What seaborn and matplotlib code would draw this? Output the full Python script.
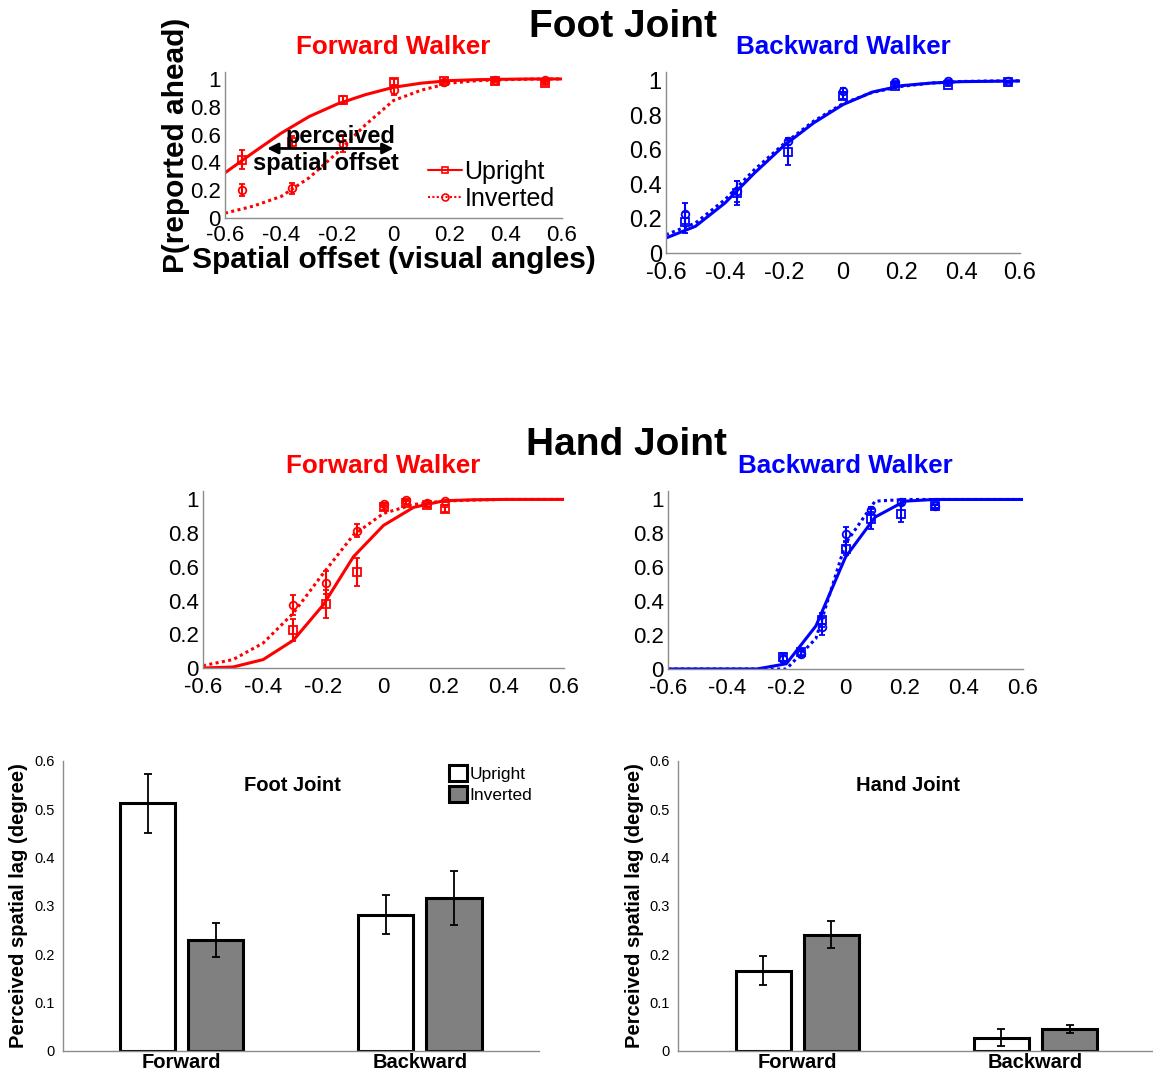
import numpy as np
import pandas as pd
import matplotlib
matplotlib.use("Agg")
import matplotlib.pyplot as plt
from matplotlib.lines import Line2D
from matplotlib.patches import Patch
import seaborn as sns

sns.set_style("white")
plt.rcParams["font.family"] = ["Liberation Sans", "DejaVu Sans"]
plt.rcParams["text.color"] = "black"
plt.rcParams["axes.labelcolor"] = "black"
plt.rcParams["xtick.color"] = "black"
plt.rcParams["ytick.color"] = "black"

# ---------------- psychometric data ----------------
fit_x = [-0.6, -0.5, -0.4, -0.3, -0.2, -0.1, 0.0, 0.1, 0.2, 0.3, 0.4, 0.5, 0.6]

# Foot joint, forward walker
foot_fw_x = [-0.54, -0.36, -0.18, 0.0, 0.18, 0.36, 0.54]
foot_fw_up = [0.42, 0.55, 0.85, 0.975, 0.985, 0.985, 0.97]
foot_fw_up_err = [0.07, 0.04, 0.027, 0.025, 0.01, 0.01, 0.01]
foot_fw_inv = [0.20, 0.215, 0.535, 0.92, 0.98, 0.995, 0.995]
foot_fw_inv_err = [0.042, 0.04, 0.06, 0.038, 0.01, 0.008, 0.008]
foot_fw_up_fit = [0.325, 0.47, 0.61, 0.73, 0.82, 0.887, 0.94, 0.97, 0.988, 0.995, 0.998, 1.0, 1.0]
foot_fw_inv_fit = [0.035, 0.085, 0.155, 0.29, 0.47, 0.67, 0.845, 0.92, 0.97, 0.988, 0.995, 0.999, 1.0]

# Foot joint, backward walker
foot_bw_x = [-0.535, -0.36, -0.185, 0.0, 0.175, 0.355, 0.56]
foot_bw_up = [0.178, 0.348, 0.584, 0.913, 0.971, 0.977, 0.99]
foot_bw_up_err = [0.06, 0.068, 0.072, 0.02, 0.008, 0.008, 0.006]
foot_bw_inv = [0.228, 0.358, 0.648, 0.942, 0.99, 1.0, 0.996]
foot_bw_inv_err = [0.061, 0.06, 0.02, 0.015, 0.006, 0.004, 0.004]
foot_bw_up_fit = [0.087, 0.155, 0.29, 0.464, 0.623, 0.754, 0.861, 0.934, 0.971, 0.986, 0.994, 0.996, 0.998]
foot_bw_inv_fit = [0.106, 0.174, 0.31, 0.484, 0.634, 0.764, 0.867, 0.932, 0.967, 0.986, 0.995, 0.998, 0.999]

# Hand joint, forward walker
hand_fw_x = [-0.30, -0.19, -0.088, 0.0, 0.076, 0.146, 0.206]
hand_fw_up = [0.227, 0.379, 0.568, 0.953, 0.976, 0.966, 0.943]
hand_fw_up_err = [0.064, 0.084, 0.084, 0.015, 0.012, 0.01, 0.015]
hand_fw_inv = [0.375, 0.507, 0.815, 0.97, 0.996, 0.98, 0.99]
hand_fw_inv_err = [0.059, 0.068, 0.04, 0.01, 0.008, 0.008, 0.006]
hand_fw_up_fit = [0.0, 0.006, 0.05, 0.164, 0.375, 0.66, 0.846, 0.953, 0.992, 0.998, 1.0, 1.0, 1.0]
hand_fw_inv_fit = [0.014, 0.05, 0.148, 0.325, 0.562, 0.789, 0.917, 0.97, 0.99, 0.996, 1.0, 1.0, 1.0]

# Hand joint, backward walker
hand_bw_x = [-0.211, -0.151, -0.079, 0.0, 0.086, 0.186, 0.302]
hand_bw_up = [0.07, 0.10, 0.29, 0.71, 0.886, 0.916, 0.96]
hand_bw_up_err = [0.025, 0.02, 0.04, 0.04, 0.058, 0.05, 0.01]
hand_bw_inv = [0.06, 0.09, 0.25, 0.798, 0.94, 0.984, 0.96]
hand_bw_inv_err = [0.02, 0.02, 0.05, 0.04, 0.015, 0.012, 0.01]
hand_bw_up_fit = [0.0, 0.0, 0.0, 0.0, 0.031, 0.254, 0.66, 0.896, 0.99, 1.0, 1.0, 1.0, 1.0]
hand_bw_inv_fit = [0.0, 0.0, 0.0, 0.0, 0.0, 0.18, 0.74, 0.99, 1.0, 1.0, 1.0, 1.0, 1.0]

# ---------------- perceived spatial lag ----------------
walkers = ["Forward", "Backward"]
orientations = ["Upright", "Inverted"]
foot_lag_up = [0.512, 0.282]
foot_lag_inv = [0.229, 0.317]
foot_lag_up_se = [0.061, 0.040]
foot_lag_inv_se = [0.035, 0.056]
hand_lag_up = [0.166, 0.027]
hand_lag_inv = [0.240, 0.045]
hand_lag_up_se = [0.030, 0.018]
hand_lag_inv_se = [0.028, 0.0085]

tick_vals = [-0.6, -0.4, -0.2, 0, 0.2, 0.4, 0.6]
tick_labs = ["-0.6", "-0.4", "-0.2", "0", "0.2", "0.4", "0.6"]
ytick_vals = [0, 0.2, 0.4, 0.6, 0.8, 1]
ytick_labs = ["0", "0.2", "0.4", "0.6", "0.8", "1"]

RED = "#ff0000"
BLUE = "#0000ff"
SPINE = "#8c8c8c"

W, H = 1153, 1078
fig = plt.figure(figsize=(W / 100, H / 100), dpi=100)


def px_axes(x0, x1, ytop, ybot):
    return fig.add_axes([x0 / W, 1 - ybot / H, (x1 - x0) / W, (ybot - ytop) / H])


def style_axes(ax, fs, xpad=6.5):
    for s in ["top", "right"]:
        ax.spines[s].set_visible(False)
    for s in ["left", "bottom"]:
        ax.spines[s].set_color(SPINE)
        ax.spines[s].set_linewidth(1.0)
    ax.tick_params(direction="in", length=4, width=1, color=SPINE,
                   labelsize=fs, labelcolor="black")
    ax.tick_params(axis="x", pad=xpad)
    ax.tick_params(axis="y", pad=3)


def psych_panel(ax, color, x, up, up_err, inv, inv_err, up_fit, inv_fit, fs):
    curves = pd.DataFrame({
        "x": fit_x * 2,
        "p": up_fit + inv_fit,
        "cond": ["Upright"] * len(fit_x) + ["Inverted"] * len(fit_x),
    })
    sns.lineplot(data=curves[curves.cond == "Upright"], x="x", y="p", ax=ax,
                 color=color, lw=2.2, linestyle="-", legend=False)
    sns.lineplot(data=curves[curves.cond == "Inverted"], x="x", y="p", ax=ax,
                 color=color, lw=2.2, linestyle=(0, (1, 1.1)), legend=False)
    ax.errorbar(x, up, yerr=up_err, fmt="s", ms=5.5, mfc="none", mec=color,
                mew=1.3, ecolor=color, elinewidth=1.5, capsize=2.5, capthick=1.5)
    ax.errorbar(x, inv, yerr=inv_err, fmt="o", ms=5.5, mfc="none", mec=color,
                mew=1.3, ecolor=color, elinewidth=1.5, capsize=2.5, capthick=1.5)
    ax.set_xlim(-0.6, 0.6)
    ax.set_ylim(0, 1.05)
    ax.set_xticks(tick_vals, tick_labs)
    ax.set_yticks(ytick_vals, ytick_labs)
    ax.set_xlabel("")
    ax.set_ylabel("")
    style_axes(ax, fs)


# ---- Foot joint: forward walker ----
ax1 = px_axes(225, 562, 72, 218)
psych_panel(ax1, RED, foot_fw_x, foot_fw_up, foot_fw_up_err, foot_fw_inv,
            foot_fw_inv_err, foot_fw_up_fit, foot_fw_inv_fit, 16)
ax1.tick_params(axis="x", pad=5)
ax1.set_title("Forward Walker", color=RED, fontsize=18.7, fontweight="bold", pad=13)
ax1.set_xlabel("Spatial offset (visual angles)", fontsize=21.5, fontweight="bold", labelpad=0)
ax1.set_ylabel("P(reported ahead)", fontsize=21.5, fontweight="bold", labelpad=0)
ax1.annotate("", xy=(0.0, 0.5), xytext=(-0.45, 0.5),
             arrowprops=dict(arrowstyle="<|-|>", color="black", lw=2,
                             mutation_scale=16, shrinkA=0, shrinkB=0))
ax1.text(-0.19, 0.585, "perceived", fontsize=17, fontweight="bold",
         ha="center", va="center")
ax1.text(-0.24, 0.39, "spatial offset", fontsize=17, fontweight="bold",
         ha="center", va="center")
leg_handles = [
    Line2D([0], [0], color=RED, lw=1.5, ls="-", marker="s", ms=5, mfc="none", mew=1.2),
    Line2D([0], [0], color=RED, lw=1.5, ls=(0, (1, 1.1)), marker="o", ms=5, mfc="none", mew=1.2),
]
ax1.legend(leg_handles, orientations, loc="lower right", bbox_to_anchor=(1.0, 0.0),
           frameon=False, fontsize=18, handlelength=1.35, handletextpad=0.1,
           labelspacing=0.12, borderpad=0.2, borderaxespad=0.1)

# ---- Foot joint: backward walker ----
ax2 = px_axes(666, 1020, 72, 253)
psych_panel(ax2, BLUE, foot_bw_x, foot_bw_up, foot_bw_up_err, foot_bw_inv,
            foot_bw_inv_err, foot_bw_up_fit, foot_bw_inv_fit, 17)
ax2.set_title("Backward Walker", color=BLUE, fontsize=18.7, fontweight="bold", pad=13)

# ---- Hand joint: forward walker ----
ax3 = px_axes(203, 564, 491, 668)
psych_panel(ax3, RED, hand_fw_x, hand_fw_up, hand_fw_up_err, hand_fw_inv,
            hand_fw_inv_err, hand_fw_up_fit, hand_fw_inv_fit, 16)
ax3.set_title("Forward Walker", color=RED, fontsize=18.7, fontweight="bold", pad=13)

# ---- Hand joint: backward walker ----
ax4 = px_axes(668, 1023, 491, 669)
psych_panel(ax4, BLUE, hand_bw_x, hand_bw_up, hand_bw_up_err, hand_bw_inv,
            hand_bw_inv_err, hand_bw_up_fit, hand_bw_inv_fit, 16)
ax4.set_title("Backward Walker", color=BLUE, fontsize=18.7, fontweight="bold", pad=13)

fig.text(623 / W, 1 - 27 / H, "Foot Joint", fontsize=28, fontweight="bold",
         ha="center", va="center")
fig.text(626 / W, 1 - 445 / H, "Hand Joint", fontsize=28, fontweight="bold",
         ha="center", va="center")


# ---------------- bar panels ----------------
def lag_panel(ax, up, inv, up_se, inv_se, title):
    df = pd.DataFrame({
        "walker": walkers * 2,
        "orient": [orientations[0]] * 2 + [orientations[1]] * 2,
        "lag": up + inv,
    })
    sns.barplot(data=df, x="walker", y="lag", hue="orient", order=walkers,
                hue_order=orientations, palette={"Upright": "white", "Inverted": "#808080"},
                width=0.572, gap=0.19, errorbar=None, edgecolor="black",
                linewidth=2.2, ax=ax, legend=False, saturation=1)
    errs = {}
    for (w, o, se) in zip(walkers * 2, [orientations[0]] * 2 + [orientations[1]] * 2,
                          up_se + inv_se):
        errs[(w, o)] = se
    # bars come out hue-major: Upright (Forward, Backward), then Inverted
    order = [(w, o) for o in orientations for w in walkers]
    for patch, key in zip(ax.patches, order):
        cx = patch.get_x() + patch.get_width() / 2
        ax.errorbar(cx, patch.get_height(), yerr=errs[key], fmt="none",
                    ecolor="black", elinewidth=1.3, capsize=3, capthick=1.3)
    ax.set_xlim(-0.5, 1.5)
    ax.set_ylim(0, 0.6)
    ax.set_yticks([0, 0.1, 0.2, 0.3, 0.4, 0.5, 0.6],
                  ["0", "0.1", "0.2", "0.3", "0.4", "0.5", "0.6"])
    ax.set_xticks([0, 0.5, 1, 1.5], ["Forward", "", "Backward", ""])
    style_axes(ax, 10.5, xpad=2)
    ax.tick_params(axis="y", direction="out", length=4, pad=2)
    ax.tick_params(axis="x", labelsize=14.5)
    for lab in ax.get_xticklabels():
        lab.set_fontweight("bold")
    ax.set_xlabel("")
    ax.set_ylabel("Perceived spatial lag (degree)", fontsize=14.5,
                  fontweight="bold", labelpad=4)
    ax.text(0.482, 0.917, title, transform=ax.transAxes, fontsize=14.5,
            fontweight="bold", ha="center", va="center")


ax5 = px_axes(62.7, 539, 761, 1050.7)
lag_panel(ax5, foot_lag_up, foot_lag_inv, foot_lag_up_se, foot_lag_inv_se, "Foot Joint")
bar_handles = [Patch(facecolor="white", edgecolor="black", lw=2.2),
               Patch(facecolor="#808080", edgecolor="black", lw=2.2)]
ax5.legend(bar_handles, orientations, loc="upper left", bbox_to_anchor=(0.812, 0.985),
           frameon=False, fontsize=12.5, handlelength=1.0, handleheight=1.05,
           handletextpad=0.15, labelspacing=0.2, borderpad=0, borderaxespad=0)

ax6 = px_axes(678.3, 1154.6, 761, 1050.7)
lag_panel(ax6, hand_lag_up, hand_lag_inv, hand_lag_up_se, hand_lag_inv_se, "Hand Joint")

fig.savefig("out.png", dpi=100)
